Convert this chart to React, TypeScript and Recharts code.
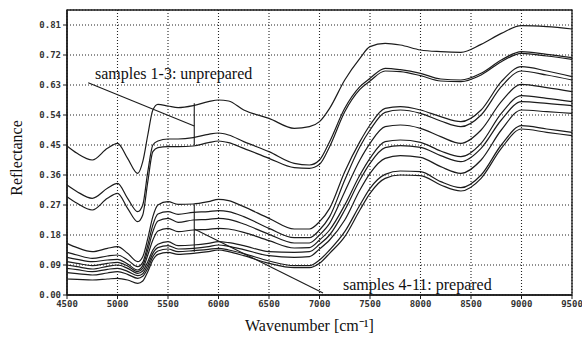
import { LineChart, Line, XAxis, YAxis, CartesianGrid, ReferenceLine, ReferenceArea } from "recharts";

const WAVENUMBERS = [4500, 4600, 4750, 4900, 5000, 5100, 5200, 5250, 5300, 5350, 5400, 5500, 5600, 5750, 5900, 6000, 6100, 6250, 6500, 6750, 6900, 7000, 7100, 7250, 7400, 7500, 7650, 7800, 8000, 8200, 8400, 8600, 8800, 9000, 9250, 9500];

// samples 1-3: unprepared
const SAMPLE_1 = [0.447, 0.425, 0.405, 0.44, 0.455, 0.41, 0.365, 0.4, 0.48, 0.555, 0.572, 0.567, 0.562, 0.568, 0.58, 0.585, 0.582, 0.555, 0.53, 0.5, 0.505, 0.52, 0.56, 0.645, 0.71, 0.745, 0.755, 0.75, 0.735, 0.73, 0.728, 0.752, 0.785, 0.808, 0.805, 0.798];
const SAMPLE_2 = [0.33, 0.31, 0.29, 0.32, 0.335, 0.29, 0.25, 0.27, 0.37, 0.45, 0.462, 0.468, 0.468, 0.472, 0.482, 0.486, 0.48, 0.46, 0.43, 0.395, 0.39, 0.405, 0.46, 0.56, 0.625, 0.65, 0.68, 0.676, 0.665, 0.648, 0.645, 0.665, 0.705, 0.73, 0.722, 0.712];
const SAMPLE_3 = [0.295, 0.275, 0.255, 0.29, 0.305, 0.26, 0.22, 0.24, 0.34, 0.43, 0.442, 0.445, 0.445, 0.447, 0.457, 0.462, 0.457, 0.44, 0.41, 0.382, 0.38, 0.392, 0.445, 0.55, 0.617, 0.642, 0.672, 0.67, 0.658, 0.642, 0.64, 0.66, 0.7, 0.725, 0.717, 0.707];

// samples 4-11: prepared
const SAMPLE_4 = [0.155, 0.142, 0.13, 0.14, 0.145, 0.125, 0.1, 0.115, 0.17, 0.235, 0.27, 0.28, 0.272, 0.273, 0.28, 0.287, 0.283, 0.265, 0.23, 0.198, 0.198, 0.22, 0.26, 0.37, 0.46, 0.51, 0.56, 0.565, 0.555, 0.535, 0.52, 0.555, 0.64, 0.685, 0.672, 0.655];
const SAMPLE_5 = [0.128, 0.12, 0.11, 0.117, 0.12, 0.105, 0.085, 0.098, 0.15, 0.21, 0.243, 0.25, 0.242, 0.248, 0.25, 0.253, 0.25, 0.235, 0.2, 0.172, 0.172, 0.195, 0.235, 0.345, 0.445, 0.495, 0.548, 0.555, 0.545, 0.522, 0.505, 0.54, 0.625, 0.672, 0.66, 0.645];
const SAMPLE_6 = [0.113, 0.107, 0.1, 0.105, 0.107, 0.093, 0.075, 0.088, 0.135, 0.19, 0.222, 0.23, 0.218, 0.225, 0.227, 0.23, 0.227, 0.213, 0.182, 0.156, 0.156, 0.18, 0.215, 0.31, 0.405, 0.455, 0.505, 0.51, 0.5, 0.475, 0.455, 0.495, 0.58, 0.632, 0.622, 0.61];
const SAMPLE_7 = [0.1, 0.095, 0.088, 0.095, 0.098, 0.087, 0.07, 0.08, 0.12, 0.165, 0.192, 0.2, 0.19, 0.195, 0.197, 0.2, 0.198, 0.188, 0.163, 0.141, 0.142, 0.165, 0.195, 0.27, 0.36, 0.41, 0.46, 0.465, 0.458, 0.432, 0.415, 0.455, 0.545, 0.598, 0.59, 0.58];
const SAMPLE_8 = [0.09, 0.085, 0.078, 0.086, 0.09, 0.08, 0.065, 0.072, 0.1, 0.135, 0.152, 0.16, 0.148, 0.15, 0.155, 0.16, 0.157, 0.148, 0.13, 0.128, 0.13, 0.152, 0.18, 0.255, 0.345, 0.395, 0.442, 0.448, 0.443, 0.418, 0.4, 0.44, 0.525, 0.58, 0.575, 0.568];
const SAMPLE_9 = [0.08, 0.076, 0.07, 0.077, 0.08, 0.071, 0.058, 0.064, 0.09, 0.125, 0.142, 0.148, 0.138, 0.14, 0.145, 0.15, 0.146, 0.136, 0.118, 0.113, 0.115, 0.138, 0.165, 0.225, 0.315, 0.365, 0.41, 0.418, 0.413, 0.385, 0.365, 0.405, 0.495, 0.555, 0.55, 0.545];
const SAMPLE_10 = [0.067, 0.064, 0.06, 0.066, 0.07, 0.062, 0.05, 0.056, 0.08, 0.115, 0.132, 0.138, 0.13, 0.133, 0.137, 0.14, 0.135, 0.124, 0.102, 0.088, 0.088, 0.105, 0.135, 0.19, 0.27, 0.32, 0.362, 0.372, 0.37, 0.34, 0.322, 0.36, 0.45, 0.508, 0.498, 0.488];
const SAMPLE_11 = [0.048, 0.047, 0.045, 0.048, 0.05, 0.045, 0.035, 0.042, 0.07, 0.105, 0.122, 0.128, 0.122, 0.125, 0.13, 0.135, 0.13, 0.118, 0.095, 0.082, 0.082, 0.095, 0.125, 0.175, 0.255, 0.305, 0.35, 0.36, 0.358, 0.33, 0.312, 0.35, 0.44, 0.498, 0.488, 0.478];

const SAMPLES = [SAMPLE_1, SAMPLE_2, SAMPLE_3, SAMPLE_4, SAMPLE_5, SAMPLE_6, SAMPLE_7, SAMPLE_8, SAMPLE_9, SAMPLE_10, SAMPLE_11];

const X_TICKS = [4500, 5000, 5500, 6000, 6500, 7000, 7500, 8000, 8500, 9000, 9500];
const Y_TICKS = [0, 0.09, 0.18, 0.27, 0.36, 0.45, 0.54, 0.63, 0.72, 0.81];

// annotation pointers (data coordinates)
const POINTER_UNPREPARED = [{ x: 4710, y: 0.637 }, { x: 5760, y: 0.507 }];
const BAR_UNPREPARED = [{ x: 5760, y: 0.45 }, { x: 5760, y: 0.575 }];
const POINTER_PREPARED = [{ x: 5760, y: 0.198 }, { x: 7035, y: 0.006 }];
const BAR_PREPARED = [{ x: 5760, y: 0.13 }, { x: 5760, y: 0.272 }];

const rows = WAVENUMBERS.map((w, i) => {
  const row: Record<string, number> = { w };
  SAMPLES.forEach((s, k) => {
    row[`s${k + 1}`] = s[i];
  });
  return row;
});

const INK = "#1c1c1c";
const serif = "'Liberation Serif', 'Times New Roman', serif";
const tickFont = { fontFamily: "'DejaVu Sans Mono', monospace", fontSize: 9, fill: "#333", fontWeight: 700 };

export default function App() {
  return (
    <div style={{ position: "absolute", left: 0, top: 0, width: 582, height: 342, background: "#fff" }}>
      <LineChart width={582} height={342} data={rows} margin={{ top: 10, right: 10, bottom: 17, left: 7 }}>
        <CartesianGrid stroke="#222" strokeWidth={1.1} strokeDasharray="1 2" />
        <XAxis
          dataKey="w"
          type="number"
          domain={[4500, 9500]}
          ticks={X_TICKS}
          height={30}
          tick={tickFont}
          tickSize={4}
          tickMargin={2}
          axisLine={{ stroke: INK, strokeWidth: 1.5 }}
          tickLine={{ stroke: INK }}
        />
        <YAxis
          type="number"
          domain={[0, 0.855]}
          ticks={Y_TICKS}
          allowDataOverflow
          width={60}
          tick={tickFont}
          tickSize={4}
          tickMargin={2}
          tickFormatter={(v: number) => v.toFixed(2)}
          axisLine={{ stroke: INK, strokeWidth: 1.5 }}
          tickLine={{ stroke: INK }}
        />
        <ReferenceArea x1={4500} x2={9500} y1={0} y2={0.855} fill="none" stroke={INK} strokeWidth={1.3} ifOverflow="visible" />
        {SAMPLES.map((_, k) => (
          <Line
            key={k}
            type="monotone"
            dataKey={`s${k + 1}`}
            stroke={INK}
            strokeWidth={1.2}
            dot={false}
            isAnimationActive={false}
          />
        ))}
        <ReferenceLine segment={POINTER_UNPREPARED} stroke={INK} strokeWidth={1.1} />
        <ReferenceLine segment={BAR_UNPREPARED} stroke={INK} strokeWidth={1.1} />
        <ReferenceLine segment={POINTER_PREPARED} stroke={INK} strokeWidth={1.1} />
        <ReferenceLine segment={BAR_PREPARED} stroke={INK} strokeWidth={1.1} />
      </LineChart>
      <div style={{ position: "absolute", left: 95, top: 66, fontFamily: serif, fontSize: 16, lineHeight: "16px", color: "#111", whiteSpace: "nowrap" }}>
        samples 1-3: unprepared
      </div>
      <div style={{ position: "absolute", left: 343, top: 277, fontFamily: serif, fontSize: 16, lineHeight: "16px", color: "#111", whiteSpace: "nowrap" }}>
        samples 4-11: prepared
      </div>
      <div style={{ position: "absolute", left: 245, top: 318, fontFamily: serif, fontSize: 16, lineHeight: "16px", color: "#111", whiteSpace: "nowrap" }}>
        Wavenumber [cm⁻¹]
      </div>
      <div
        style={{
          position: "absolute",
          left: 17,
          top: 158,
          transform: "translate(-50%, -50%) rotate(-90deg)",
          fontFamily: serif,
          fontSize: 16,
          lineHeight: "16px",
          color: "#111",
          whiteSpace: "nowrap",
        }}
      >
        Reflectance
      </div>
    </div>
  );
}
